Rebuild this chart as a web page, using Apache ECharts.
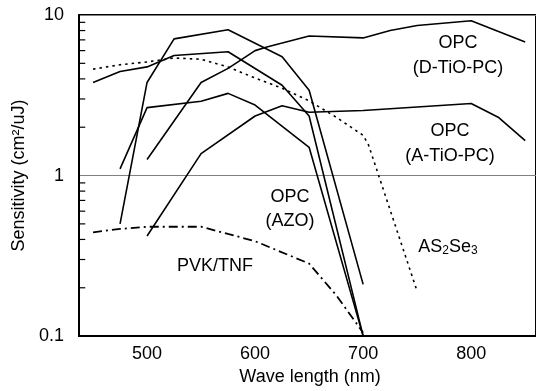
<!DOCTYPE html>
<html><head><meta charset="utf-8">
<script src="https://cdn.jsdelivr.net/npm/echarts@6/dist/echarts.min.js"></script>
<style>html,body{margin:0;padding:0;background:#fff}#c{width:536px;height:391px}</style>
</head><body><div id="c"></div>
<script>
// ---- data (wavelength nm, sensitivity cm2/uJ) ----
const xTickLabels = [500, 600, 700, 800];
const yMinorTicks = [0.2,0.3,0.4,0.5,0.6,0.7,0.8,0.9,2,3,4,5,6,7,8,9];

const wlOpcA = [450, 475, 500, 525, 575, 625, 650, 700];
const valOpcA = [3.8, 4.45, 4.75, 5.6, 5.9, 3.65, 2.35, 0.1];

const wlOpcB = [475, 500, 525, 575, 625, 650, 700];
const valOpcB = [0.5, 3.8, 7.1, 8.1, 5.5, 3.4, 0.21];

const wlOpcC = [475, 500, 550, 575, 600, 650, 700];
const valOpcC = [1.1, 2.65, 2.9, 3.25, 2.75, 1.5, 0.1];

const wlDTiO = [500, 550, 575, 600, 610, 650, 700, 725, 750, 800, 850];
const valDTiO = [1.26, 3.8, 4.65, 6.0, 6.3, 7.4, 7.2, 8.0, 8.6, 9.2, 6.8];

const wlATiO = [500, 550, 600, 625, 650, 700, 800, 825, 850];
const valATiO = [0.42, 1.37, 2.35, 2.72, 2.48, 2.54, 2.81, 2.31, 1.65];

const wlAsSe = [450, 475, 500, 525, 550, 575, 600, 625, 650, 675, 700, 705, 750];
const valAsSe = [4.6, 4.9, 5.1, 5.4, 5.3, 4.75, 4.05, 3.5, 2.92, 2.31, 1.78, 1.55, 0.19];

const wlPvk = [450, 475, 500, 550, 600, 650, 675, 700];
const valPvk = [0.443, 0.465, 0.48, 0.48, 0.39, 0.283, 0.18, 0.105];

// ---- chart ----
const X_MIN = 437, X_MAX = 860;
const FONT = 'Liberation Sans, Arial, Helvetica, sans-serif';
const FS = 18;
const pairs = (xs, ys) => xs.map((x, i) => [x, ys[i]]);
const solid = (name, xs, ys) => ({
  name, type: 'line', data: pairs(xs, ys), symbol: 'none', silent: true,
  lineStyle: { color: '#000', width: 1.6 }
});
const label = (text, x, y, lh) => ({
  type: 'text', x, y,
  style: { text, font: FS + 'px ' + FONT, fill: '#000', align: 'center', verticalAlign: 'middle', lineHeight: lh || 25 }
});

const chart = echarts.init(document.getElementById('c'), null, { renderer: 'canvas' });
chart.setOption({
  animation: false,
  backgroundColor: '#fff',
  grid: { left: 79, top: 15, right: -2, bottom: 48, containLabel: false,
          show: true, borderColor: '#000', borderWidth: 2, backgroundColor: 'transparent' },
  xAxis: {
    type: 'value', min: X_MIN, max: X_MAX, position: 'bottom',
    axisLine: { show: true, onZero: false, lineStyle: { color: '#000', width: 2 } },
    axisTick: { show: false }, splitLine: { show: false },
    axisLabel: { customValues: xTickLabels, color: '#000', fontSize: FS, fontFamily: FONT, margin: 9 },
    name: 'Wave length (nm)', nameLocation: 'middle', nameGap: 18,
    nameTextStyle: { color: '#000', fontSize: FS, fontFamily: FONT, padding: [0, 0, 0, 5] }
  },
  yAxis: {
    type: 'log', logBase: 10, min: 0.1, max: 10,
    axisLine: { show: true, onZero: false, lineStyle: { color: '#000', width: 2 } },
    axisTick: { show: false },
    splitLine: { show: true, lineStyle: { color: '#808080', width: 1.2 } },
    axisLabel: { color: '#000', fontSize: FS, fontFamily: FONT, margin: 15,
      formatter: v => (v >= 1 ? String(Math.round(v)) : String(+v.toFixed(1))) },
    name: 'Sensitivity (cm²/uJ)', nameLocation: 'middle', nameGap: 49,
    nameTextStyle: { color: '#000', fontSize: FS, fontFamily: FONT }
  },
  series: [
    solid('OPC-1', wlOpcA, valOpcA),
    solid('OPC-2', wlOpcB, valOpcB),
    solid('OPC-3', wlOpcC, valOpcC),
    solid('OPC (D-TiO-PC)', wlDTiO, valDTiO),
    solid('OPC (A-TiO-PC)', wlATiO, valATiO),
    {
      name: 'AS2Se3', type: 'line', data: pairs(wlAsSe, valAsSe), symbol: 'none', silent: true,
      lineStyle: { color: '#000', width: 1.6, type: [2.5, 4] }
    },
    {
      name: 'PVK/TNF', type: 'line', data: pairs(wlPvk, valPvk), symbol: 'none', silent: true,
      lineStyle: { color: '#000', width: 1.8, type: [9, 4, 2, 4] }
    },
    {
      name: 'minor ticks', type: 'scatter', silent: true,
      data: yMinorTicks.map(v => [X_MIN + 3, v]),
      symbol: 'rect', symbolSize: [6, 1.2],
      itemStyle: { color: '#000', opacity: 1 }
    }
  ],
  graphic: [
    label('OPC\n(D-TiO-PC)', 458, 56),
    label('OPC\n(A-TiO-PC)', 450, 144),
    label('OPC\n(AZO)', 290, 209, 24),
    label('PVK/TNF', 215, 266),
    { type: 'text', x: 448, y: 247, style: {
        text: 'AS{s|2}Se{s|3}', font: FS + 'px ' + FONT, fill: '#000', align: 'center', verticalAlign: 'middle',
        rich: { s: { fontSize: 12, fontFamily: FONT, fill: '#000', padding: [8, 0, 0, 0] } } } }
  ]
});
</script>
</body></html>
